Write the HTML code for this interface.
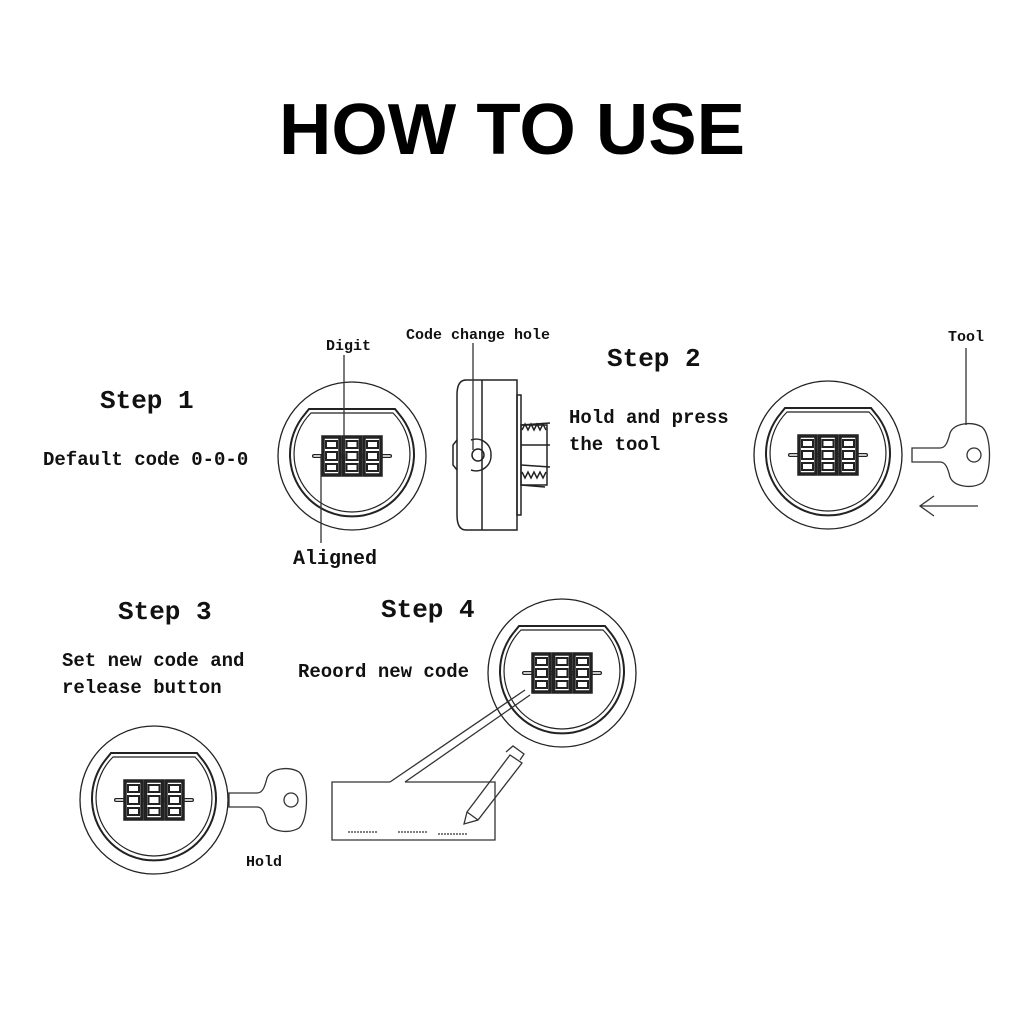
<!DOCTYPE html>
<html><head><style>
html,body{margin:0;padding:0;background:#fff;width:1024px;height:1024px;overflow:hidden}
svg{display:block}
.t{font-family:"Liberation Mono",monospace;font-weight:bold;fill:#111}
</style></head><body>
<svg width="1024" height="1024" viewBox="0 0 1024 1024" xmlns="http://www.w3.org/2000/svg">
<defs>
<g id="lock" fill="none" stroke="#222">
  <circle r="74" stroke-width="1.3"/>
  <path d="M-43,-47 L43,-47 L47,-42 A62,62 0 1 1 -47,-42 Z" stroke-width="2"/>
  <path d="M-41,-43 L41,-43 A58,58 0 1 1 -41,-43 Z" stroke-width="1.2"/>
  <line x1="-38" y1="0" x2="38" y2="0" stroke-width="4" stroke-linecap="round"/>
  <line x1="-38" y1="0" x2="38" y2="0" stroke="#fff" stroke-width="1.5" stroke-linecap="round"/>
  <g stroke-width="3.5" fill="#fff">
    <rect x="-29" y="-19" width="17" height="38"/>
    <rect x="-8.5" y="-19" width="17" height="38"/>
    <rect x="12" y="-19" width="17" height="38"/>
  </g>
  <g stroke-width="2">
    <rect x="-26" y="-15" width="11" height="7"/><rect x="-26" y="-4" width="11" height="8"/><rect x="-26" y="8" width="11" height="7"/>
    <rect x="-5.5" y="-15" width="11" height="7"/><rect x="-5.5" y="-4" width="11" height="8"/><rect x="-5.5" y="8" width="11" height="7"/>
    <rect x="15" y="-15" width="11" height="7"/><rect x="15" y="-4" width="11" height="8"/><rect x="15" y="8" width="11" height="7"/>
  </g>
</g>
<g id="key" fill="none" stroke="#333" stroke-width="1.3">
  <path d="M0,-7 L28,-7 C34,-7 36,-14 38,-22 C42,-32 60,-34 70,-28 C80,-20 80,20 70,28 C60,34 42,32 38,22 C36,14 34,7 28,7 L0,7 Z"/>
  <circle cx="62" cy="0" r="7"/>
</g>
</defs>

<text x="512" y="154" text-anchor="middle" font-family="Liberation Sans, sans-serif" font-weight="bold" font-size="72" textLength="466" lengthAdjust="spacingAndGlyphs" fill="#000">HOW TO USE</text>

<!-- Step 1 -->
<text class="t" x="100" y="408" font-size="26">Step 1</text>
<text class="t" x="43" y="465" font-size="19">Default code 0-0-0</text>
<use href="#lock" x="352" y="456"/>
<line x1="344" y1="355" x2="344" y2="455" stroke="#333" stroke-width="1.3"/>
<text class="t" x="326" y="350" font-size="15">Digit</text>
<line x1="321" y1="455" x2="321" y2="543" stroke="#333" stroke-width="1.3"/>
<text class="t" x="293" y="564" font-size="20">Aligned</text>

<!-- side view -->
<g fill="none" stroke="#222" stroke-width="1.5">
  <path d="M466,380 L517,380 L517,530 L466,530 Q457,530 457,515 L457,395 Q457,380 466,380 Z"/>
  <line x1="482" y1="380" x2="482" y2="530"/>
  <path d="M457,440 L453,445 L453,465 L457,470"/>
  <circle cx="478" cy="455" r="6"/>
  <path d="M471,440 A15,15 0 0 1 491,455 A15,15 0 0 1 471,470"/>
  <rect x="517" y="395" width="4" height="120"/>
  <rect x="521" y="425" width="26" height="60"/>
  <path d="M521,425 L550,423 M521,445 L550,445 M521,465 L550,467 M521,485 L545,487"/>
  <path d="M522,430 l3,-6 l3,6 l3,-6 l3,6 l3,-6 l3,6 l3,-6 l3,6 M522,472 l3,6 l3,-6 l3,6 l3,-6 l3,6 l3,-6 l3,6 l3,-6"/>
</g>
<line x1="473" y1="343" x2="473" y2="450" stroke="#333" stroke-width="1.3"/>
<text class="t" x="406" y="339" font-size="15">Code change hole</text>

<!-- Step 2 -->
<text class="t" x="607" y="366" font-size="26">Step 2</text>
<text class="t" x="569" y="423" font-size="19">Hold and press</text>
<text class="t" x="569" y="450" font-size="19">the tool</text>
<use href="#lock" x="828" y="455"/>
<use href="#key" x="912" y="455"/>
<line x1="966" y1="348" x2="966" y2="425" stroke="#333" stroke-width="1.3"/>
<text class="t" x="948" y="341" font-size="15">Tool</text>
<path d="M978,506 L920,506 M934,496 L920,506 L934,516" fill="none" stroke="#333" stroke-width="1.3"/>

<!-- Step 3 -->
<text class="t" x="118" y="619" font-size="26">Step 3</text>
<text class="t" x="62" y="666" font-size="19">Set new code and</text>
<text class="t" x="62" y="693" font-size="19">release button</text>
<use href="#lock" x="154" y="800"/>
<use href="#key" x="229" y="800"/>
<text class="t" x="246" y="866" font-size="15">Hold</text>

<!-- Step 4 -->
<text class="t" x="381" y="617" font-size="26">Step 4</text>
<text class="t" x="298" y="677" font-size="19">Reoord new code</text>
<use href="#lock" x="562" y="673"/>
<g fill="none" stroke="#333" stroke-width="1.3">
  <path d="M390,782 L332,782 L332,840 L495,840 L495,782 L405,782"/>
  <path d="M390,782 L525,690 M405,782 L530,695"/>
  <path d="M467,812 L510,755 L522,763 L478,820 L464,824 Z M467,812 L478,820 M506,752 L513,746 L524,754 L520,760"/>
  <path d="M348,832 h30 M398,832 h30 M438,834 h30" stroke-dasharray="2,1"/>
</g>
</svg>
</body></html>
